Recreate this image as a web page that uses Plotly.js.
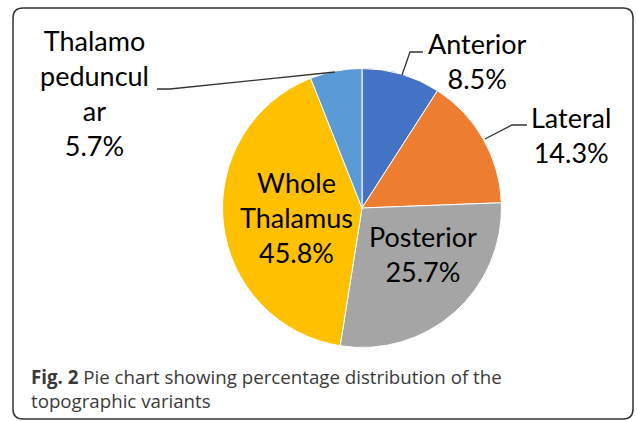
<!DOCTYPE html>
<html>
<head>
<meta charset="utf-8">
<script src="https://cdn.plot.ly/plotly-3.0.1.min.js"></script>
<style>html,body{margin:0;padding:0;background:#fff;}#chart{width:637px;height:421px;}</style>
</head>
<body>
<div id="chart"></div>
<script>
// ---- data ----
const categories = ['Anterior', 'Lateral', 'Posterior', 'Whole Thalamus', 'Thalamo peduncular'];
// slice sizes as drawn in the picture (angular share, %)
const sliceShares = [9.1, 15.3, 28.1, 41.5, 6.0];
// percentage labels printed on the chart
const labelPercents = ['8.5%', '14.3%', '25.7%', '45.8%', '5.7%'];
// label text as wrapped in the chart
const labelNames = ['Anterior', 'Lateral', 'Posterior', 'Whole<br>Thalamus', 'Thalamo<br>peduncul<br>ar'];
const sliceColors = ['#4472C4', '#ED7D31', '#A5A5A5', '#FFC000', '#5B9BD5'];
const captionBold = 'Fig. 2';
const captionText = ' Pie chart showing percentage distribution of the<br>topographic variants';

// ---- layout helpers (pixel -> paper) ----
const W = 637, H = 421;
const px = x => x / W;
const py = y => 1 - y / H;
const P = (x, y) => `${px(x)},${py(y)}`;

const cx = 362, cy = 208, r = 139.5;

const trace = {
  type: 'pie',
  labels: categories,
  values: sliceShares,
  sort: false,
  direction: 'clockwise',
  rotation: 0,
  marker: { colors: sliceColors, line: { color: '#ffffff', width: 1 } },
  textinfo: 'none',
  hoverinfo: 'none',
  showlegend: false,
  domain: { x: [px(cx - r), px(cx + r)], y: [py(cy + r), py(cy - r)] }
};

// label anchor positions (pixels)
const labelPos = [[477, 61.5], [571, 135], [422.5, 254], [296.5, 217.5], [94, 93]];
const labelFont = { family: 'Lato, "Open Sans", sans-serif', size: 27, color: '#000000' };

const annotations = categories.map((c, i) => ({
  xref: 'paper', yref: 'paper',
  x: px(labelPos[i][0]), y: py(labelPos[i][1]),
  xanchor: 'center', yanchor: 'middle',
  text: labelNames[i] + '<br>' + labelPercents[i],
  showarrow: false, align: 'center',
  font: labelFont
}));

annotations.push({
  xref: 'paper', yref: 'paper',
  x: px(29), y: py(388),
  xanchor: 'left', yanchor: 'middle', align: 'left',
  text: '<b>' + captionBold + '</b>' + captionText,
  showarrow: false,
  font: { family: '"Open Sans", sans-serif', size: 18.7, color: '#3a3a3a' }
});

// rounded frame
const L = 13, T = 8, R = 633, B = 419, rad = 10;
const framePath = `M${P(L + rad, T)} L${P(R - rad, T)} Q${P(R, T)} ${P(R, T + rad)} L${P(R, B - rad)} Q${P(R, B)} ${P(R - rad, B)} L${P(L + rad, B)} Q${P(L, B)} ${P(L, B - rad)} L${P(L, T + rad)} Q${P(L, T)} ${P(L + rad, T)} Z`;

const leaderLine = { color: '#333333', width: 1.3 };
const shapes = [
  { type: 'path', xref: 'paper', yref: 'paper', path: framePath, line: { color: '#333333', width: 1.5 } },
  { type: 'path', xref: 'paper', yref: 'paper', path: `M${P(423, 52)} L${P(410, 52)} L${P(402, 75)}`, line: leaderLine },
  { type: 'path', xref: 'paper', yref: 'paper', path: `M${P(527, 125)} L${P(512, 125)} L${P(485, 139)}`, line: leaderLine },
  { type: 'path', xref: 'paper', yref: 'paper', path: `M${P(157, 89)} L${P(170, 89)} L${P(335, 72)}`, line: leaderLine }
];

const layout = {
  width: W, height: H,
  margin: { l: 0, r: 0, t: 0, b: 0 },
  paper_bgcolor: '#ffffff',
  plot_bgcolor: '#ffffff',
  showlegend: false,
  hovermode: false,
  annotations: annotations,
  shapes: shapes
};

Plotly.newPlot('chart', [trace], layout, { displayModeBar: false, staticPlot: true });
</script>
</body>
</html>
